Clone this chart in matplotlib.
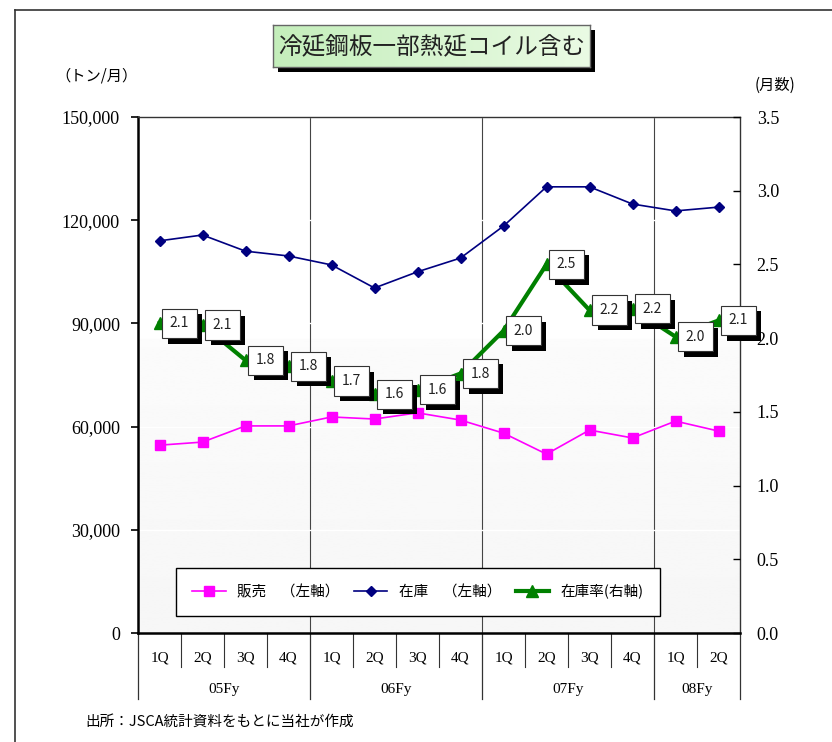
import numpy as np
import matplotlib
matplotlib.use("Agg")
import matplotlib.pyplot as plt
import matplotlib.patheffects as pe
from matplotlib.patches import Rectangle
from matplotlib.lines import Line2D
from matplotlib.ticker import FixedLocator
from matplotlib.colors import LinearSegmentedColormap

plt.rcParams["font.family"] = ["Noto Sans CJK JP", "DejaVu Sans"]

# data
quarters = ["1Q", "2Q", "3Q", "4Q", "1Q", "2Q", "3Q", "4Q", "1Q", "2Q", "3Q", "4Q", "1Q", "2Q"]
years = ["05Fy", "06Fy", "07Fy", "08Fy"]
year_span = [4, 4, 4, 2]
sales = [54600, 55500, 60200, 60200, 62800, 62200, 64000, 61900, 58100, 52000, 59000, 56700, 61600, 58700]
stock = [114000, 115700, 111000, 109600, 107000, 100300, 105000, 109000, 118300, 129700, 129700, 124700, 122700, 123800]
ratio = [2.10, 2.09, 1.85, 1.81, 1.71, 1.62, 1.65, 1.76, 2.05, 2.50, 2.19, 2.20, 2.01, 2.12]
ratio_label = [2.1, 2.1, 1.8, 1.8, 1.7, 1.6, 1.6, 1.8, 2.0, 2.5, 2.2, 2.2, 2.0, 2.1]

W, H = 832, 742
fig = plt.figure(figsize=(W / 100, H / 100), dpi=100)

def fx(px):
    return px / W

def fy(py):
    return 1 - py / H

# outer frame (left and top edges)
fig.add_artist(Line2D([fx(15), fx(15)], [fy(10), 0], color="#333333", lw=1.2))
fig.add_artist(Line2D([fx(15), 1], [fy(10), fy(10)], color="#333333", lw=1.2))

ax = fig.add_axes([fx(138), fy(633), fx(740) - fx(138), fy(117) - fy(633)])
x = np.arange(len(quarters))

# very light background: white on top, faint grey below
t = np.linspace(0, 1, 300)
shade = np.where(t < 0.43, 1.0, 0.985 - 0.02 * (t - 0.43) / 0.57).reshape(-1, 1)
ax.imshow(shade, cmap="gray", vmin=0, vmax=1, aspect="auto",
          extent=[-0.5, 13.5, 0, 150000], origin="upper", zorder=0)

ax.set_xlim(-0.5, 13.5)
ax.set_ylim(0, 150000)
ax.yaxis.set_major_locator(FixedLocator(np.arange(0, 150001, 30000)))
ax.set_yticklabels([f"{int(v):,}" for v in np.arange(0, 150001, 30000)],
                   family="Liberation Serif", fontsize=13)
ax.tick_params(axis="y", direction="out", length=5, width=1.2, pad=8)
ax.set_xticks([])
ax.grid(axis="y", color="white", lw=1)
for s in ["left", "bottom"]:
    ax.spines[s].set_linewidth(1.8)
for s in ["top", "right"]:
    ax.spines[s].set_linewidth(1.0)
    ax.spines[s].set_color("#333333")

# year dividers
edges = np.cumsum(year_span)[:-1] - 0.5
for e in edges:
    ax.axvline(e, color="#444444", lw=0.8, zorder=1)

l_sales, = ax.plot(x, sales, color="#ff00ff", marker="s", ms=7, lw=1.2, zorder=3,
                   label="販売　（左軸）")
l_stock, = ax.plot(x, stock, color="#000080", marker="D", ms=5.5, lw=1.2, zorder=3,
                   label="在庫　（左軸）")

ax2 = ax.twinx()
ax2.set_ylim(0, 3.5)
ax2.yaxis.set_major_locator(FixedLocator(np.arange(0, 3.51, 0.5)))
ax2.set_yticklabels([f"{v:.1f}" for v in np.arange(0, 3.51, 0.5)],
                    family="Liberation Serif", fontsize=13)
ax2.tick_params(axis="y", direction="in", length=5, width=1, pad=12)
for s in ax2.spines.values():
    s.set_visible(False)
l_ratio, = ax2.plot(x, ratio, color="#008000", marker="^", ms=8, lw=3, zorder=4,
                    label="在庫率(右軸)")

# data labels: white boxes with a hard black drop shadow
for xi, yi, lab in zip(x, ratio, ratio_label):
    a = ax2.annotate(f"{lab:.1f}", (xi, yi), xytext=(14.4, 0), textcoords="offset points",
                     ha="center", va="center", fontsize=10, color="#222222", zorder=6,
                     bbox=dict(boxstyle="square,pad=0.55", fc="white", ec="#333333", lw=0.8))
    a.get_bbox_patch().set_path_effects([
        pe.SimplePatchShadow(offset=(4, -4), shadow_rgbFace="black", alpha=1.0),
        pe.Normal()])

# category table under the axis
trans = ax.get_xaxis_transform()
for i in range(1, len(quarters)):
    if i - 0.5 in edges:
        continue
    ax.plot([i - 0.5, i - 0.5], [0, -0.066], transform=trans, color="#333333", lw=0.8,
            clip_on=False)
for e in [-0.5, *edges, 13.5]:
    ax.plot([e, e], [0, -0.128], transform=trans, color="#333333", lw=0.9, clip_on=False)
for xi, q in zip(x, quarters):
    ax.text(xi, -0.048, q, transform=trans, ha="center", va="center",
            family="Liberation Serif", fontsize=11)
start = 0
for yr, n in zip(years, year_span):
    ax.text(start + (n - 1) / 2, -0.110, yr, transform=trans, ha="center", va="center",
            family="Liberation Serif", fontsize=11)
    start += n

# legend
leg = ax2.legend(handles=[l_sales, l_stock, l_ratio], ncol=3, mode="expand",
                 loc="center", fontsize=10.5, handlelength=2.3, frameon=True,
                 fancybox=False, edgecolor="black", framealpha=1,
                 bbox_to_anchor=((176 - 138) / 602, (633 - 617) / 516,
                                 (660 - 176) / 602, 50 / 516),
                 borderaxespad=0, borderpad=1.1)
leg.get_frame().set_linewidth(1.0)
leg.set_zorder(10)

# axis unit labels
fig.text(fx(97), fy(76), "（トン/月）", ha="center", va="center", fontsize=11)
fig.text(fx(775), fy(85), "(月数)", ha="center", va="center", fontsize=11)

# title box with shadow
fig.add_artist(Rectangle((fx(278), fy(72)), fx(317), fy(25) - fy(67),
                         transform=fig.transFigure, fc="black", ec="none", zorder=-1))
tax = fig.add_axes([fx(273), fy(67), fx(317), fy(25) - fy(67)])
g = np.linspace(0, 1, 256).reshape(1, -1)
cm = LinearSegmentedColormap.from_list("g", ["#c4eebb", "#eafbe4"])
tax.imshow(g, cmap=cm, aspect="auto", extent=[0, 1, 0, 1])
tax.set_xticks([])
tax.set_yticks([])
for s in tax.spines.values():
    s.set_color("#666666")
    s.set_linewidth(1)
tax.text(0.5, 0.48, "冷延鋼板一部熱延コイル含む", ha="center", va="center",
         fontsize=17, color="#222222", transform=tax.transAxes)

fig.text(fx(85), fy(722), "出所：JSCA統計資料をもとに当社が作成", ha="left", va="center",
         fontsize=10.5)

fig.savefig("out.png", dpi=100)
